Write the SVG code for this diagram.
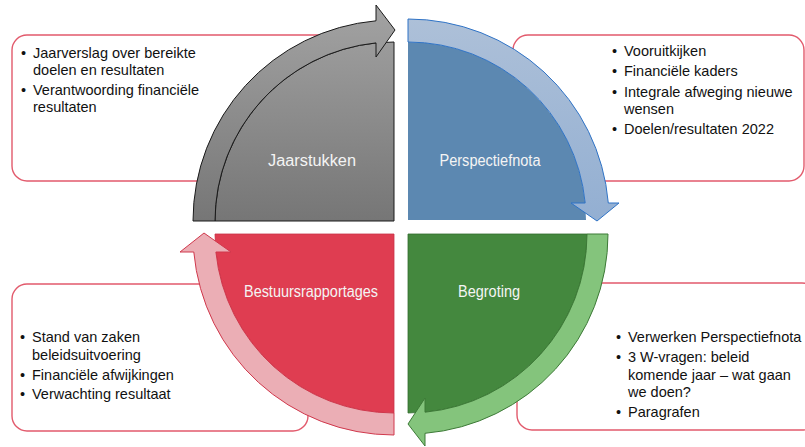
<svg xmlns="http://www.w3.org/2000/svg" width="805" height="447" viewBox="0 0 805 447">
<defs>
<linearGradient id="gGray" gradientUnits="userSpaceOnUse" x1="0" y1="10" x2="0" y2="221">
<stop offset="0" stop-color="#a2a2a2"/>
<stop offset="1" stop-color="#767676"/>
</linearGradient>
<linearGradient id="gBlueBand" gradientUnits="userSpaceOnUse" x1="0" y1="19" x2="0" y2="220">
<stop offset="0" stop-color="#adc0d8"/>
<stop offset="1" stop-color="#93afd2"/>
</linearGradient>
</defs>
<style>
.box{fill:#ffffff;stroke:#e25a6c;stroke-width:1.4}
.txt{font-family:"Liberation Sans",Arial,sans-serif;font-size:14.5px;fill:#111111}
.lbl{font-family:"Liberation Sans",Arial,sans-serif;font-size:16px;fill:#f4f4f4;text-anchor:middle}
</style>
<rect width="805" height="447" fill="#ffffff"/>

<g id="box-jaarstukken">
<rect class="box" x="12" y="35" width="330" height="146" rx="15"/>
<text class="txt"><tspan x="21" y="58">•</tspan><tspan x="33" y="58">Jaarverslag over bereikte</tspan><tspan x="33" y="75">doelen en resultaten</tspan><tspan x="21" y="95">•</tspan><tspan x="33" y="95">Verantwoording financiële</tspan><tspan x="33" y="112">resultaten</tspan></text>
</g>

<g id="box-perspectiefnota">
<rect class="box" x="513" y="35" width="291" height="146" rx="15"/>
<text class="txt"><tspan x="612" y="56">•</tspan><tspan x="624" y="56">Vooruitkijken</tspan><tspan x="612" y="76">•</tspan><tspan x="624" y="76">Financiële kaders</tspan><tspan x="612" y="97">•</tspan><tspan x="624" y="97">Integrale afweging nieuwe</tspan><tspan x="624" y="114">wensen</tspan><tspan x="612" y="134">•</tspan><tspan x="624" y="134">Doelen/resultaten 2022</tspan></text>
</g>

<g id="box-bestuursrapportages">
<rect class="box" x="12" y="284" width="296" height="147" rx="15"/>
<text class="txt"><tspan x="20" y="342">•</tspan><tspan x="32" y="342">Stand van zaken</tspan><tspan x="32" y="360">beleidsuitvoering</tspan><tspan x="20" y="380">•</tspan><tspan x="32" y="380">Financiële afwijkingen</tspan><tspan x="20" y="399">•</tspan><tspan x="32" y="399">Verwachting resultaat</tspan></text>
</g>

<g id="box-begroting">
<rect class="box" x="517" y="283" width="300" height="147" rx="15"/>
<text class="txt"><tspan x="616" y="342">•</tspan><tspan x="628" y="342">Verwerken Perspectiefnota</tspan><tspan x="616" y="362">•</tspan><tspan x="628" y="362">3 W-vragen: beleid</tspan><tspan x="628" y="380">komende jaar – wat gaan</tspan><tspan x="628" y="397">we doen?</tspan><tspan x="616" y="417">•</tspan><tspan x="628" y="417">Paragrafen</tspan></text>
</g>

<g id="node-jaarstukken">
<path d="M394,221 L215,221 A179,179 0 0 1 394,42 Z" fill="url(#gGray)" stroke="#1a1a1a" stroke-width="1"/>
<path d="M193,221 A201,201 0 0 1 376,20.8 L376,5 L395,30 L376,57 L376,42.9 A179,179 0 0 0 215,221 Z" fill="url(#gGray)" stroke="#1a1a1a" stroke-width="1" stroke-linejoin="miter"/>
<text class="lbl" x="312" y="166" textLength="88" lengthAdjust="spacingAndGlyphs">Jaarstukken</text>
</g>

<g id="node-perspectiefnota">
<path d="M408,220 L408,42 A178,178 0 0 1 586,220 Z" fill="#5c88b1"/>
<path d="M408,19 A201,201 0 0 1 608.3,203 L619,203 L597,221 L571,203 L585.2,203 A178,178 0 0 0 408,42 Z" fill="url(#gBlueBand)" stroke="#2f73c6" stroke-width="1"/>
<text class="lbl" x="490" y="166" textLength="101" lengthAdjust="spacingAndGlyphs">Perspectiefnota</text>
</g>

<g id="node-begroting">
<path d="M408,234 L587,234 A179,179 0 0 1 408,413 Z" fill="#44883e" stroke="#336d2e" stroke-width="0.8"/>
<path d="M608,234 A200,200 0 0 1 425,433.3 L425,446 L408,424 L425,398 L425,412.2 A179,179 0 0 0 587,234 Z" fill="#84c47c" stroke="#3d7a37" stroke-width="1"/>
<text class="lbl" x="489" y="297" textLength="62" lengthAdjust="spacingAndGlyphs">Begroting</text>
</g>

<g id="node-bestuursrapportages">
<path d="M394,234 L394,413 A179,179 0 0 1 215,234 Z" fill="#df3d51" stroke="#c83347" stroke-width="0.8"/>
<path d="M394,435 A201,201 0 0 1 193.8,252 L180,252 L204,233 L231,252 L215.9,252 A179,179 0 0 0 394,413 Z" fill="#ebaeb5" stroke="#d0384c" stroke-width="1"/>
<text class="lbl" x="311" y="297" textLength="134" lengthAdjust="spacingAndGlyphs">Bestuursrapportages</text>
</g>

<g id="connectors"></g>
</svg>
